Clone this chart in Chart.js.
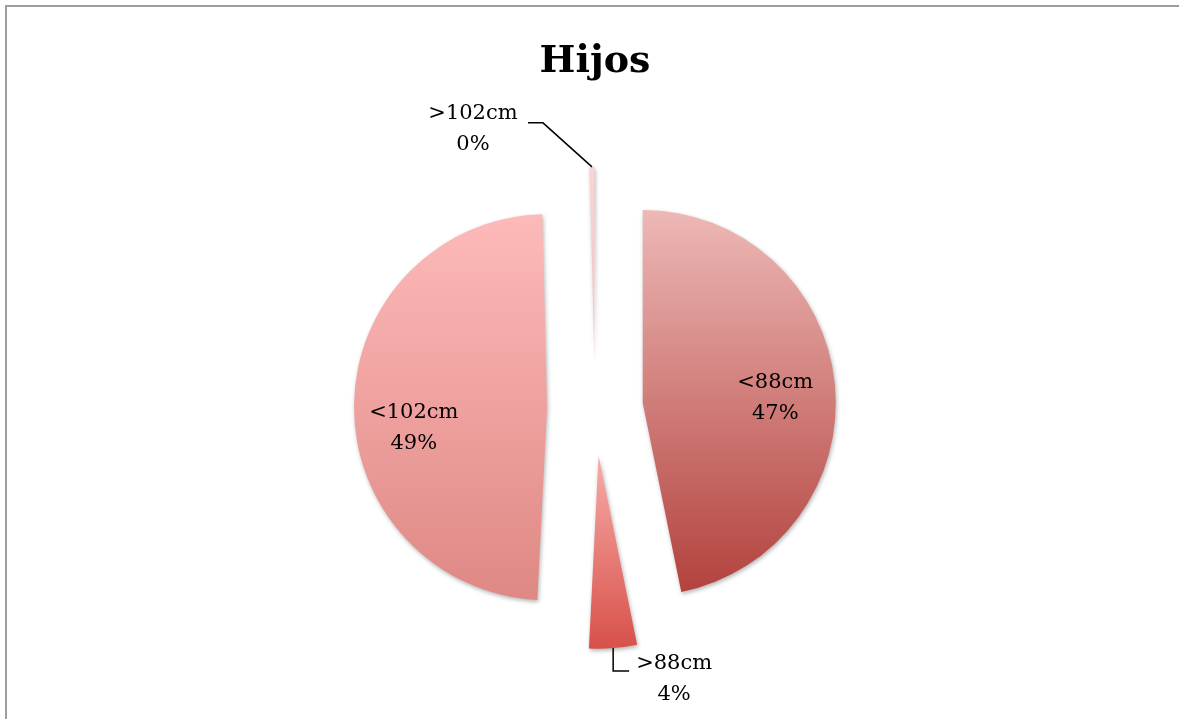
<!DOCTYPE html>
<html>
<head>
<meta charset="utf-8">
<title>Hijos</title>
<script src="https://cdn.jsdelivr.net/npm/chart.js@4.4.1/dist/chart.umd.min.js"></script>
<style>
  html, body { margin: 0; padding: 0; background: #fff; overflow: hidden; }
  .wrap { position: relative; width: 1179px; height: 719px; overflow: hidden; }
  .frame {
    position: absolute; left: 5px; top: 5px; width: 1300px; height: 800px;
    border-top: 2px solid #9d9d9d; border-left: 2px solid #9d9d9d;
  }
  .box { position: absolute; left: 0; top: 0; width: 1179px; height: 760px; }
</style>
</head>
<body>
<div class="wrap">
  <div class="frame"></div>
  <div class="box"><canvas id="pieChart"></canvas></div>
</div>
<script>
// Data (percentages)
const categories = ["<88cm", ">88cm", "<102cm", ">102cm"];
const shares = [46.8, 4.0, 48.8, 0.4];

// Gradient colours per slice (top -> bottom)
const topColors = ["#edb8b6", "#f8aca8", "#fdbab9", "#fad3d3"];
const bottomColors = ["#b3423d", "#d7514a", "#df8884", "#f5c2c2"];

const explode = 48;

// label placement: inside labels nudged, outside labels with leader lines
const labelPlacement = [
  { inside: true, dx: 0, dy: 8 },
  { inside: false, elbow: [0, 23], tail: 16, text: [61, 31] },
  { inside: true, dx: 0, dy: 23 },
  { inside: false, elbow: [-49, -44], tail: -15, text: [-119, -38] },
];

function midAngle(arc) {
  return (arc.startAngle + arc.endAngle) / 2;
}

// vertical extent of a slice, used for its gradient
function arcYRange(arc) {
  const r = arc.outerRadius;
  const ys = [arc.y, arc.y + Math.sin(arc.startAngle) * r, arc.y + Math.sin(arc.endAngle) * r];
  for (let k = -1; k <= 3; k++) {
    const a = k * Math.PI / 2;
    if (a > arc.startAngle && a < arc.endAngle) ys.push(arc.y + Math.sin(a) * r);
  }
  return [Math.min(...ys), Math.max(...ys)];
}

// Pull slices apart (exploded pie) and give them gradients + shadow
const explodePlugin = {
  id: "explodeSlices",
  afterDatasetsUpdate(chart) {
    chart.getDatasetMeta(0).data.forEach(arc => {
      arc.$baseX = arc.x;
      arc.$baseY = arc.y;
    });
  },
  beforeDatasetsDraw(chart) {
    const ctx = chart.ctx;
    chart.getDatasetMeta(0).data.forEach((arc, i) => {
      const m = midAngle(arc);
      arc.x = arc.$baseX + Math.cos(m) * explode;
      arc.y = arc.$baseY + Math.sin(m) * explode;
      const [y0, y1] = arcYRange(arc);
      const g = ctx.createLinearGradient(0, y0, 0, y1);
      g.addColorStop(0, topColors[i]);
      g.addColorStop(1, bottomColors[i]);
      arc.options = Object.assign({}, arc.options, { backgroundColor: g });
    });
    ctx.save();
    ctx.shadowColor = "rgba(0,0,0,0.3)";
    ctx.shadowBlur = 4;
    ctx.shadowOffsetX = 1;
    ctx.shadowOffsetY = 2;
  },
  afterDatasetsDraw(chart) {
    chart.ctx.restore();
  }
};

// Category + percentage labels
const labelPlugin = {
  id: "sliceLabels",
  afterDraw(chart) {
    const ctx = chart.ctx;
    const meta = chart.getDatasetMeta(0);
    const total = shares.reduce((a, b) => a + b, 0);
    ctx.save();
    ctx.font = '21px "DejaVu Serif"';
    ctx.fillStyle = "#000";
    ctx.strokeStyle = "#000";
    ctx.lineWidth = 1.5;
    ctx.textAlign = "center";
    ctx.textBaseline = "middle";
    meta.data.forEach((arc, i) => {
      const m = midAngle(arc);
      const pct = Math.round(shares[i] / total * 100) + "%";
      const place = labelPlacement[i];
      let cx, cy;
      if (place.inside) {
        cx = arc.x + Math.cos(m) * arc.outerRadius * 0.69 + place.dx;
        cy = arc.y + Math.sin(m) * arc.outerRadius * 0.69 + place.dy;
      } else {
        const ax = arc.x + Math.cos(m) * arc.outerRadius;
        const ay = arc.y + Math.sin(m) * arc.outerRadius;
        const ex = ax + place.elbow[0];
        const ey = ay + place.elbow[1];
        ctx.beginPath();
        ctx.moveTo(ax, ay);
        ctx.lineTo(ex, ey);
        ctx.lineTo(ex + place.tail, ey);
        ctx.stroke();
        cx = ax + place.text[0];
        cy = ay + place.text[1];
      }
      ctx.fillText(categories[i], cx, cy - 15.5);
      ctx.fillText(pct, cx, cy + 15.5);
    });
    ctx.restore();
  }
};

const ctx = document.getElementById("pieChart").getContext("2d");

const pieChart = new Chart(ctx, {
  type: "pie",
  data: {
    labels: categories,
    datasets: [
      {
        data: shares,
        backgroundColor: topColors,
        borderWidth: 0,
        radius: 193,
      },
    ],
  },
  options: {
    responsive: true,
    maintainAspectRatio: false,
    animation: false,
    events: [],
    layout: {
      padding: { left: 11, right: 0, top: 0, bottom: 35 },
    },
    plugins: {
      legend: { display: false },
      tooltip: { enabled: false },
      title: {
        display: true,
        text: "Hijos",
        color: "#000",
        font: { family: "DejaVu Serif", size: 38, weight: "bold" },
        padding: { top: 39, bottom: 6 },
      },
    },
  },
  plugins: [explodePlugin, labelPlugin],
});
</script>
</body>
</html>
